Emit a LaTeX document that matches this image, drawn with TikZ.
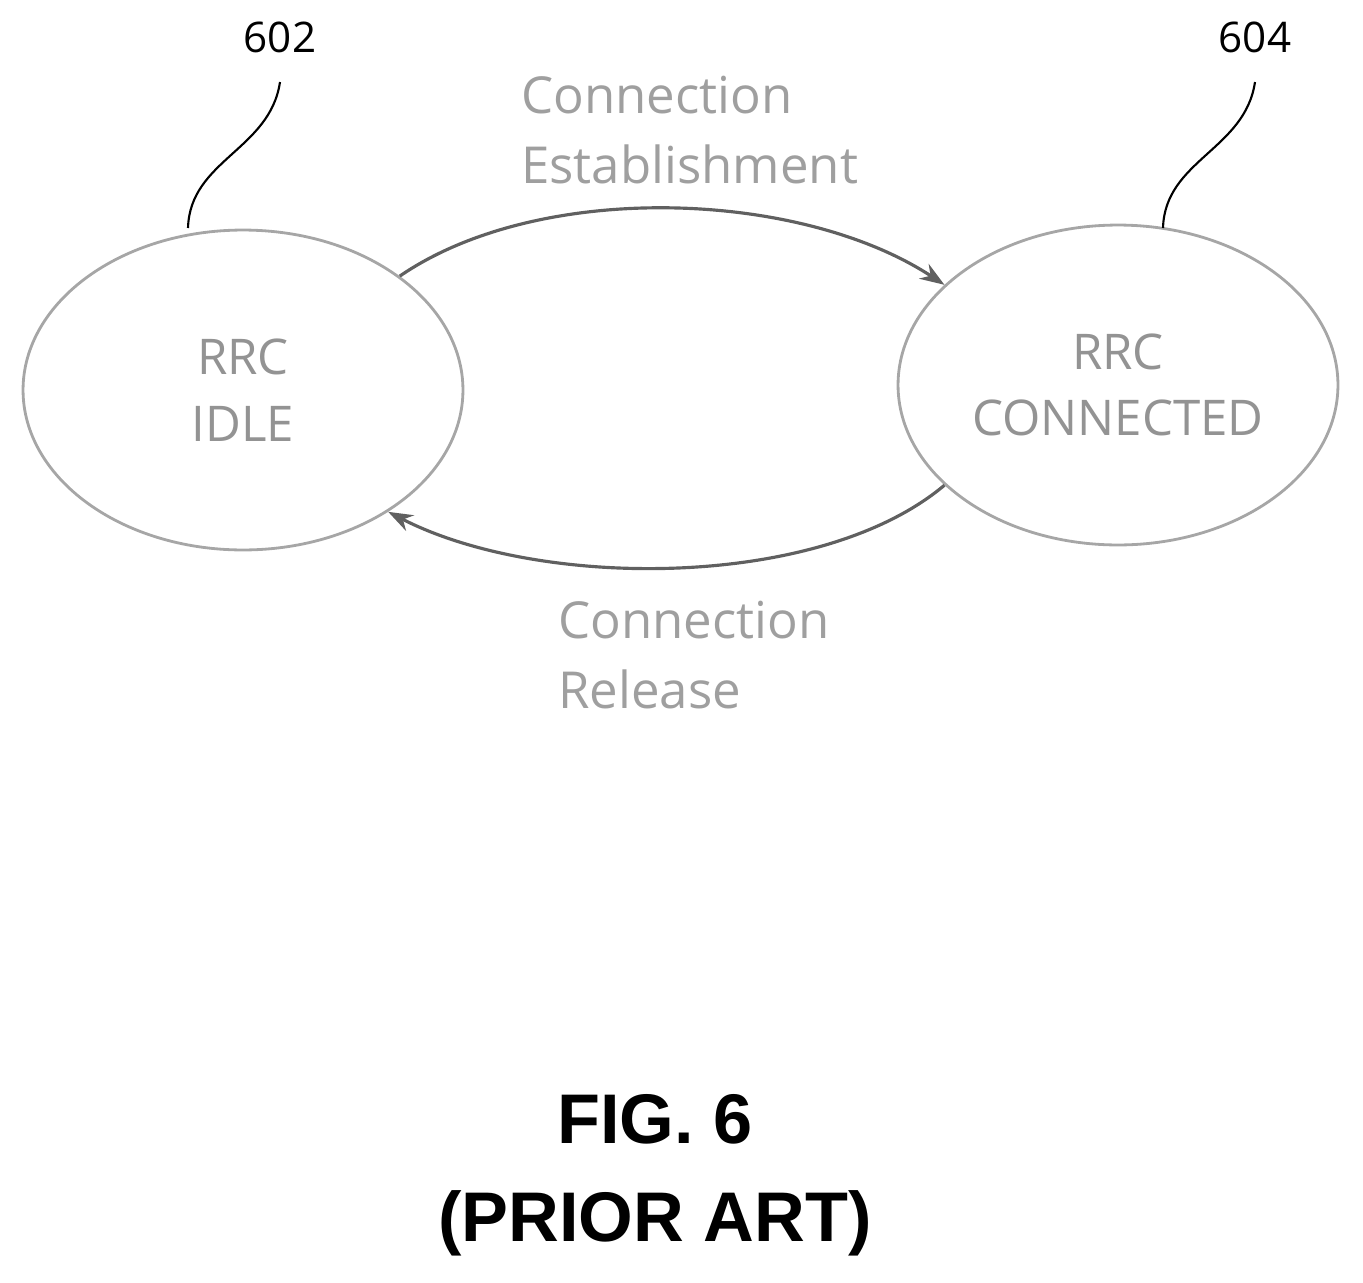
\documentclass[tikz,border=0pt]{standalone}
\usepackage{fontspec}
\setmainfont{Open Sans}
\newfontfamily\figfont{Liberation Sans}
\usetikzlibrary{arrows.meta,shapes.geometric}
\tikzset{
  state/.style={draw=gray!70,line width=1.6pt,ellipse,inner sep=0pt,minimum width=8.8cm,minimum height=6.4cm,align=center,text=gray!85,font=\fontsize{28}{38}\selectfont},
  trans/.style={draw=gray!75!black,line width=1.8pt,-{Stealth[length=14pt,width=10pt]}},
  lbl/.style={text=gray!75,font=\fontsize{29}{40}\selectfont,align=left,anchor=north west},
  refnum/.style={font=\fontsize{24}{28}\selectfont}
}
\begin{document}
\begin{tikzpicture}[x=0.02cm,y=-0.02cm]
\useasboundingbox (0,0) rectangle (1363,1282);
\node[state] (idle) at (243,390) {RRC\\IDLE};
\node[state] (conn) at (1118,385) {RRC\\CONNECTED};
% reference numerals
\node[refnum] (n602) at (280,37) {602};
\node[refnum] (n604) at (1255,37) {604};
\draw[line width=1.2pt] (280,82) .. controls (270,150) and (190,160) .. (188,228);
\draw[line width=1.2pt] (1255,82) .. controls (1245,150) and (1165,160) .. (1163,228);
% transitions
\draw[trans] (idle.36) .. controls (540,180) and (800,190) .. (conn.150);
\draw[trans] (conn.-150) .. controls (820,590) and (540,590) .. (idle.-40);
\node[lbl] (est) at (515,70) {Connection\\Establishment};
\node[lbl] (rel) at (552,595) {Connection\\Release};
\node[font=\figfont\bfseries\fontsize{40}{56}\selectfont,align=center] (fig) at (655,1175) {FIG. 6\\(PRIOR ART)};
\end{tikzpicture}
\end{document}
